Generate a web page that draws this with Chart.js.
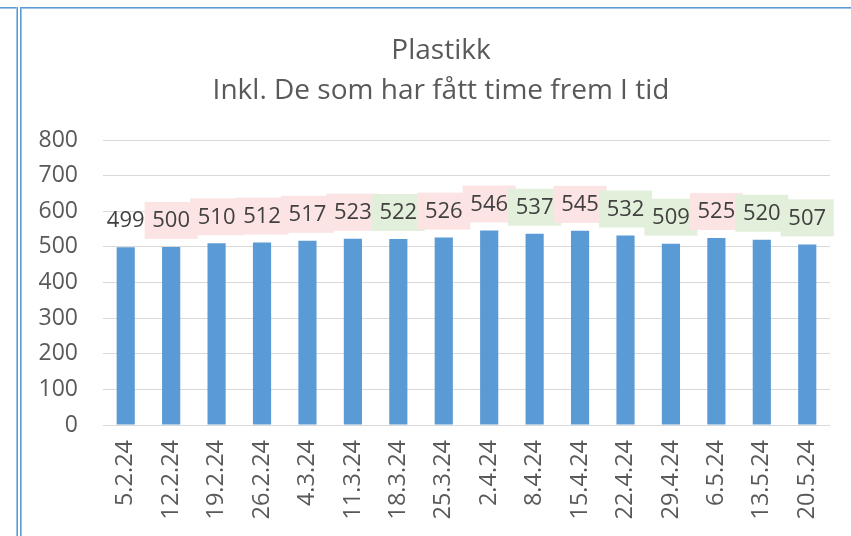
<!DOCTYPE html>
<html>
<head>
<meta charset="utf-8">
<script src="https://cdn.jsdelivr.net/npm/chart.js@4/dist/chart.umd.min.js"></script>
<style>
html,body{margin:0;padding:0;background:#fff;}
#wrap{position:relative;width:851px;height:536px;overflow:hidden;}
canvas{position:absolute;left:0;top:0;}
.l{position:absolute;}
</style>
</head>
<body>
<div id="wrap">
<canvas id="c" width="851" height="536"></canvas>
<div class="l" style="left:0;top:7px;width:17px;height:1px;background:#5b9bd5"></div>
<div class="l" style="left:0;top:8px;width:17px;height:1px;background:#9dc3e6"></div>
<div class="l" style="left:16px;top:7px;width:1px;height:529px;background:#9dc3e6"></div>
<div class="l" style="left:17px;top:7px;width:1px;height:529px;background:#5b9bd5"></div>
<div class="l" style="left:20px;top:7px;width:831px;height:1px;background:#5b9bd5"></div>
<div class="l" style="left:21px;top:8px;width:830px;height:1px;background:#9dc3e6"></div>
<div class="l" style="left:20px;top:7px;width:1px;height:529px;background:#5b9bd5"></div>
<div class="l" style="left:21px;top:8px;width:1px;height:528px;background:#9dc3e6"></div>
</div>
<script>
const categories = ["5.2.24","12.2.24","19.2.24","26.2.24","4.3.24","11.3.24","18.3.24","25.3.24","2.4.24","8.4.24","15.4.24","22.4.24","29.4.24","6.5.24","13.5.24","20.5.24"];
const values = [499,500,510,512,517,523,522,526,546,537,545,532,509,525,520,507];
const titleLines = ["Plastikk","Inkl. De som har fått time frem I tid"];
const yMin = 0, yMax = 800, yStep = 100;

const FONT = "'Open Sans', sans-serif";
const upColor = '#fde4e4';
const downColor = '#e2efda';

const titlePlugin = {
  id: 'twoLineTitle',
  afterDraw(chart) {
    const ctx = chart.ctx;
    ctx.save();
    ctx.font = "28px " + FONT;
    ctx.fillStyle = '#595959';
    ctx.textAlign = 'center';
    ctx.textBaseline = 'alphabetic';
    ctx.fillText(titleLines[0], 441, 59);
    ctx.fillText(titleLines[1], 441, 99);
    ctx.restore();
  }
};

const labelPlugin = {
  id: 'boxLabels',
  afterDatasetsDraw(chart) {
    const ctx = chart.ctx;
    const meta = chart.getDatasetMeta(0);
    ctx.save();
    ctx.font = "22px " + FONT;
    ctx.textAlign = 'center';
    ctx.textBaseline = 'middle';
    meta.data.forEach((bar, i) => {
      const x = bar.x, y = bar.y;
      const bw = 53, bh = 37;
      if (i > 0) {
        ctx.fillStyle = values[i] > values[i-1] ? upColor : downColor;
        ctx.fillRect(x - bw/2, y - 8 - bh, bw, bh);
      }
    });
    meta.data.forEach((bar, i) => {
      ctx.fillStyle = '#404040';
      ctx.fillText(String(values[i]), bar.x, bar.y - 26);
    });
    ctx.restore();
  }
};

new Chart(document.getElementById('c'), {
  type: 'bar',
  data: {
    labels: categories,
    datasets: [{
      data: values,
      backgroundColor: '#5b9bd5',
      borderWidth: 0,
      barPercentage: 0.4,
      categoryPercentage: 1.0
    }]
  },
  options: {
    responsive: false,
    animation: false,
    devicePixelRatio: 1,
    layout: { padding: { left: 20, right: 18, top: 140, bottom: 0 } },
    plugins: {
      legend: { display: false },
      tooltip: { enabled: false },
      title: { display: false }
    },
    scales: {
      x: {
        grid: { display: false, drawTicks: false },
        border: { display: true, color: '#d9d9d9', width: 1 },
        ticks: {
          color: '#595959',
          font: { family: FONT, size: 23.5 },
          minRotation: 90, maxRotation: 90,
          padding: 15,
          autoSkip: false
        },
        afterFit(scale) { scale.height = 111; }
      },
      y: {
        min: yMin, max: yMax,
        grid: { color: '#d9d9d9', drawTicks: false, lineWidth: 1 },
        border: { display: false },
        ticks: {
          stepSize: yStep,
          color: '#595959',
          font: { family: FONT, size: 23 },
          padding: 25
        },
        afterFit(scale) { scale.width = 83; }
      }
    }
  },
  plugins: [labelPlugin, titlePlugin]
});
</script>
</body>
</html>
